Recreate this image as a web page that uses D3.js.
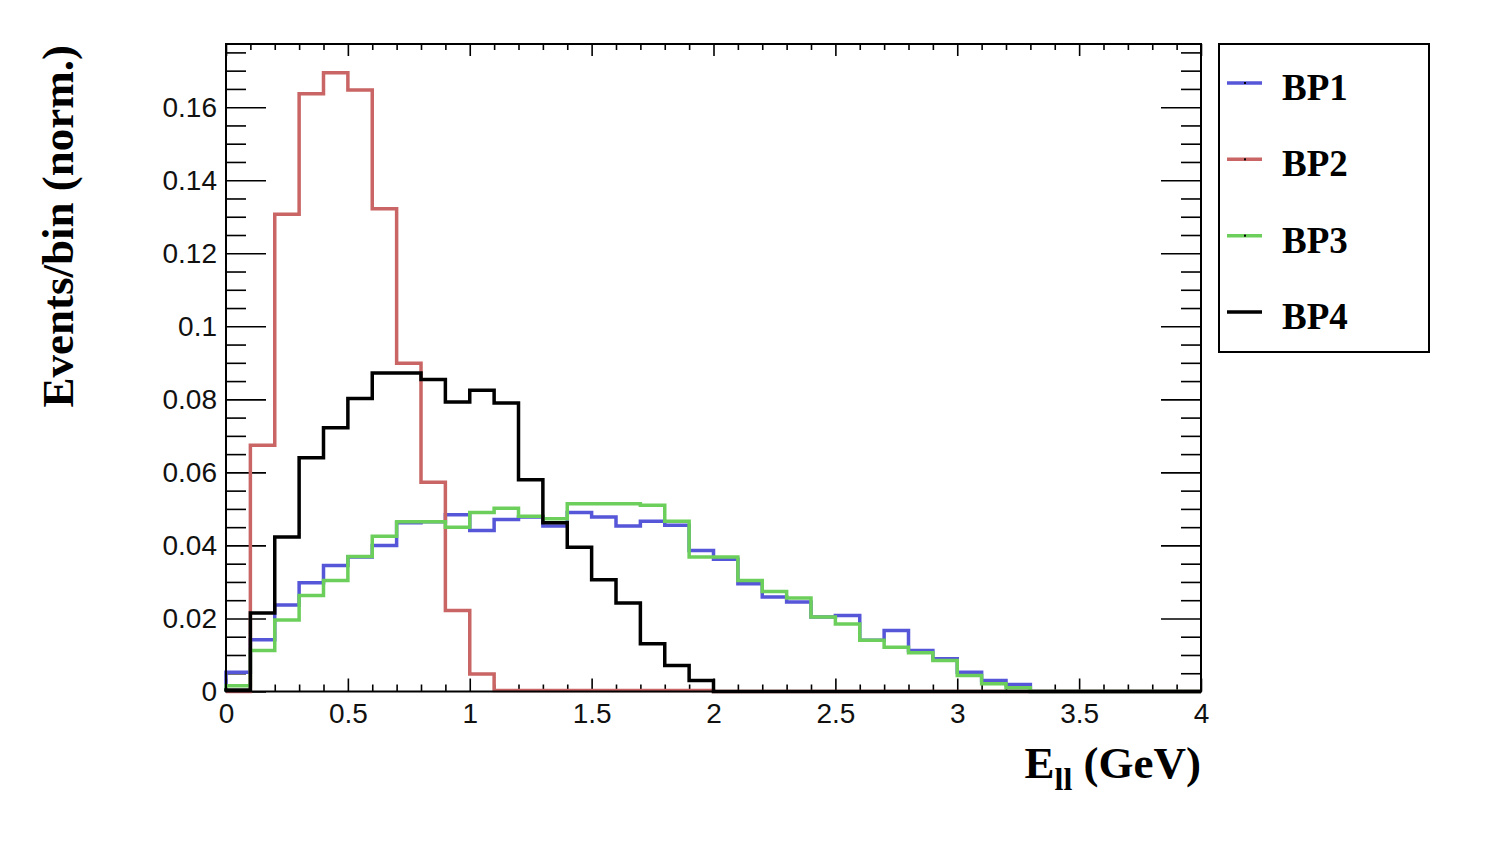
<!DOCTYPE html>
<html>
<head>
<meta charset="utf-8">
<script src="https://cdn.jsdelivr.net/npm/d3@7"></script>
<style>
  body { margin: 0; background: #fff; }
  .axis text { font-family: "Liberation Sans", Arial, sans-serif; font-size: 28px; fill: #111; }
  .axis path { display: none; }
  .axis line { stroke: #000; stroke-width: 1.6px; }
  .title { font-family: "Liberation Serif", "Times New Roman", serif; font-weight: bold; fill: #000; }
</style>
</head>
<body>
<div class="chart"></div>
<script>
// bin lower edges, 0.1 GeV wide, 0 -> 4
const binEdges = d3.range(0, 40).map(i => i / 10);

// normalised events per bin
const bp1 = [0.0053, 0.0142, 0.0237, 0.0298, 0.0345, 0.0368, 0.0400, 0.0462, 0.0465, 0.0484,
             0.0441, 0.0471, 0.0478, 0.0453, 0.0490, 0.0478, 0.0453, 0.0466, 0.0455, 0.0386,
             0.0362, 0.0295, 0.0259, 0.0245, 0.0204, 0.0208, 0.0140, 0.0167, 0.0112, 0.0090,
             0.0053, 0.0030, 0.0019, 0, 0, 0, 0, 0, 0, 0];
const bp2 = [0, 0.0674, 0.1307, 0.1637, 0.1694, 0.1647, 0.1322, 0.0899, 0.0573, 0.0222,
             0.0048, 0.0003, 0.0003, 0.0003, 0.0003, 0.0003, 0.0003, 0.0003, 0.0003, 0.0003,
             0, 0, 0, 0, 0, 0, 0, 0, 0, 0,
             0, 0, 0, 0, 0, 0, 0, 0, 0, 0];
const bp3 = [0.0016, 0.0112, 0.0196, 0.0263, 0.0304, 0.0370, 0.0425, 0.0465, 0.0465, 0.0450,
             0.0490, 0.0502, 0.0480, 0.0473, 0.0514, 0.0514, 0.0514, 0.0510, 0.0466, 0.0368,
             0.0368, 0.0304, 0.0274, 0.0256, 0.0204, 0.0185, 0.0140, 0.0121, 0.0106, 0.0085,
             0.0044, 0.0021, 0.0010, 0, 0, 0, 0, 0, 0, 0];
const bp4 = [0.0004, 0.0215, 0.0423, 0.0640, 0.0722, 0.0802, 0.0872, 0.0872, 0.0854, 0.0793,
             0.0825, 0.0790, 0.0580, 0.0462, 0.0395, 0.0306, 0.0242, 0.0131, 0.0071, 0.0030,
             0, 0, 0, 0, 0, 0, 0, 0, 0, 0,
             0, 0, 0, 0, 0, 0, 0, 0, 0, 0];

const seriesNames = ["BP1", "BP2", "BP3", "BP4"];
const seriesColors = ["#5656d9", "#c96565", "#6ccf5c", "#000000"];
const seriesData = [bp1, bp2, bp3, bp4];

const xMajor = [0, 0.5, 1, 1.5, 2, 2.5, 3, 3.5, 4];
const yMajor = [0, 0.02, 0.04, 0.06, 0.08, 0.1, 0.12, 0.14, 0.16];

const margin = {top: 44, left: 226};
const width = 975, height = 647.5;

const svg = d3.select(".chart").append("svg")
    .attr("width", 1490)
    .attr("height", 850);

const g = svg.append("g")
    .attr("transform", "translate(" + margin.left + "," + margin.top + ")");

const xScale = d3.scaleLinear().domain([0, 4]).range([0, width]);
const yScale = d3.scaleLinear().domain([0, 0.1773]).range([height, 0]);

const fmtY = d => d === 0 ? "0" : d3.format("~g")(d);
const fmtX = d => d3.format("~g")(d);

const xMinor = d3.range(0, 41).map(i => i / 10).filter(v => Math.abs(v * 2 - Math.round(v * 2)) > 1e-6);
const yMinor = d3.range(0, 36).map(i => i * 0.005).filter(v => Math.abs(v / 0.02 - Math.round(v / 0.02)) > 1e-6);

// bottom axis
g.append("g").attr("class", "axis")
    .attr("transform", "translate(0," + height + ")")
    .call(d3.axisBottom(xScale).tickValues(xMajor).tickFormat(fmtX)
        .tickSizeInner(-13).tickSizeOuter(0).tickPadding(10))
    .selectAll("text").attr("dy", "0.77em");
g.append("g").attr("class", "axis")
    .attr("transform", "translate(0," + height + ")")
    .call(d3.axisBottom(xScale).tickValues(xMinor).tickFormat("").tickSizeInner(-7).tickSizeOuter(0));

// top axis (ticks only)
g.append("g").attr("class", "axis")
    .call(d3.axisTop(xScale).tickValues(xMajor).tickFormat("").tickSizeInner(-12).tickSizeOuter(0));
g.append("g").attr("class", "axis")
    .call(d3.axisTop(xScale).tickValues(xMinor).tickFormat("").tickSizeInner(-6).tickSizeOuter(0));

// left axis
g.append("g").attr("class", "axis")
    .call(d3.axisLeft(yScale).tickValues(yMajor).tickFormat(fmtY)
        .tickSizeInner(-40).tickSizeOuter(0).tickPadding(9));
g.append("g").attr("class", "axis")
    .call(d3.axisLeft(yScale).tickValues(yMinor).tickFormat("").tickSizeInner(-20).tickSizeOuter(0));

// right axis (ticks only)
g.append("g").attr("class", "axis")
    .attr("transform", "translate(" + width + ",0)")
    .call(d3.axisRight(yScale).tickValues(yMajor).tickFormat("").tickSizeInner(-40).tickSizeOuter(0));
g.append("g").attr("class", "axis")
    .attr("transform", "translate(" + width + ",0)")
    .call(d3.axisRight(yScale).tickValues(yMinor).tickFormat("").tickSizeInner(-20).tickSizeOuter(0));

// histograms as steps
const step = d3.line()
    .x(d => xScale(d[0]))
    .y(d => yScale(d[1]))
    .curve(d3.curveStepAfter);

seriesData.forEach(function(vals, s) {
    const pts = binEdges.map((x, i) => [x, vals[i]]);
    pts.push([4, vals[vals.length - 1]]);
    pts.unshift([0, 0]);
    g.append("path")
        .datum(pts)
        .attr("d", step)
        .attr("fill", "none")
        .attr("stroke", seriesColors[s])
        .attr("stroke-width", 3.5)
        .attr("stroke-linejoin", "miter");
});

// frame
g.append("rect")
    .attr("width", width).attr("height", height)
    .attr("fill", "none").attr("stroke", "#000").attr("stroke-width", 2);

// axis titles
svg.append("text")
    .attr("class", "title")
    .attr("transform", "translate(73,45) rotate(-90)")
    .attr("text-anchor", "end")
    .style("font-size", "45px")
    .text("Events/bin (norm.)");

const xt = svg.append("text")
    .attr("class", "title")
    .attr("x", 1201).attr("y", 778)
    .attr("text-anchor", "end")
    .style("font-size", "45px");
xt.append("tspan").text("E");
xt.append("tspan").attr("dy", 12).style("font-size", "32px").text("ll");
xt.append("tspan").attr("dy", -12).text(" (GeV)");

// legend
const legend = svg.append("g");
legend.append("rect")
    .attr("x", 1219).attr("y", 44)
    .attr("width", 210).attr("height", 308)
    .attr("fill", "#fff").attr("stroke", "#000").attr("stroke-width", 2);

const legY = d3.scalePoint().domain(seriesNames).range([83, 312]);

seriesNames.forEach(function(name, i) {
    legend.append("line")
        .attr("x1", 1227).attr("x2", 1262)
        .attr("y1", legY(name)).attr("y2", legY(name))
        .attr("stroke", seriesColors[i]).attr("stroke-width", 3.5);
    legend.append("rect")
        .attr("x", 1244).attr("y", legY(name) - 1)
        .attr("width", 2).attr("height", 2)
        .attr("fill", "#000");
    legend.append("text")
        .attr("class", "title")
        .attr("x", 1282).attr("y", legY(name) + 17)
        .style("font-size", "37px")
        .text(name);
});
</script>
</body>
</html>
